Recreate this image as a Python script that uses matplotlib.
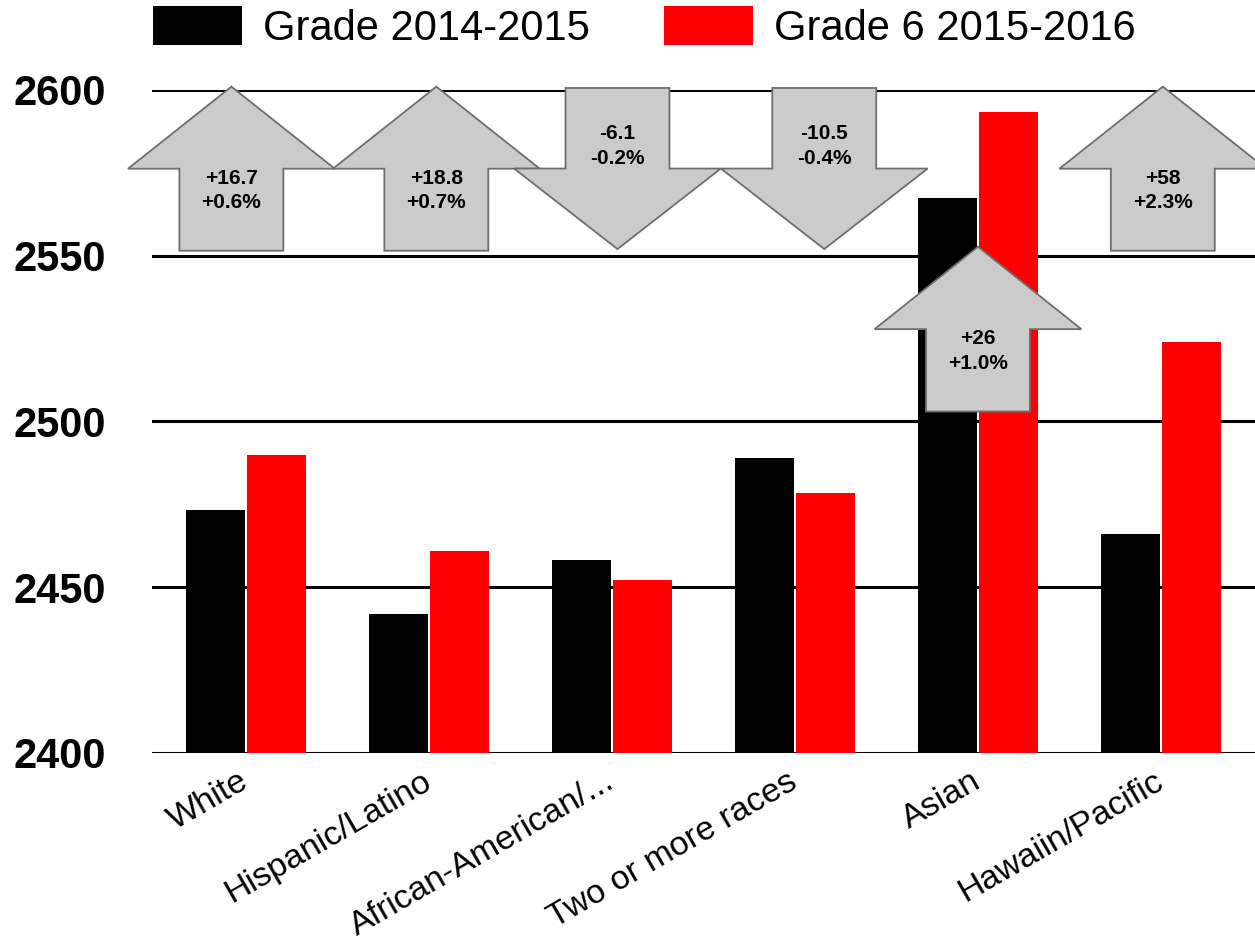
import numpy as np
import matplotlib
matplotlib.use("Agg")
import matplotlib.pyplot as plt
from matplotlib.patches import Polygon

plt.rcParams['font.family'] = ['Liberation Sans', 'DejaVu Sans']

# scaled scores by group
groups = ["White", "Hispanic/Latino", "African-American/...",
          "Two or more races", "Asian", "Hawaiin/Pacific"]
grade_2015 = [2473.2, 2442.0, 2458.3, 2489.0, 2567.4, 2466.0]
grade_2016 = [2489.9, 2460.8, 2452.2, 2478.5, 2593.4, 2524.0]
change_labels = ["+16.7\n+0.6%", "+18.8\n+0.7%", "-6.1\n-0.2%",
                 "-10.5\n-0.4%", "+26\n+1.0%", "+58\n+2.3%"]
series_names = ["Grade 2014-2015", "Grade 6 2015-2016"]
y_ticks = [2400, 2450, 2500, 2550, 2600]

# where each change arrow sits: shift from group centre, and its y span
arrow_shift = [-0.08, 0.04, 0.03, 0.16, 0.0, 0.01]
arrow_span = [(2551.5, 2601), (2551.5, 2601), (2552, 2600.6),
              (2552, 2600.6), (2503, 2552.7), (2551.5, 2601)]
HEAD_HALF = 0.565
SHAFT_HALF = 0.284


def change_arrow(ax, xc, lo, hi, up, text):
    mid = (lo + hi) / 2
    if up:
        pts = [(xc, hi), (xc + HEAD_HALF, mid), (xc + SHAFT_HALF, mid),
               (xc + SHAFT_HALF, lo), (xc - SHAFT_HALF, lo),
               (xc - SHAFT_HALF, mid), (xc - HEAD_HALF, mid)]
        ty = lo + 0.367 * (hi - lo)
    else:
        pts = [(xc, lo), (xc + HEAD_HALF, mid), (xc + SHAFT_HALF, mid),
               (xc + SHAFT_HALF, hi), (xc - SHAFT_HALF, hi),
               (xc - SHAFT_HALF, mid), (xc - HEAD_HALF, mid)]
        ty = hi - 0.36 * (hi - lo)
    ax.add_patch(Polygon(pts, closed=True, facecolor='#cbcbcb',
                         edgecolor='#6e6e6e', lw=1.3, zorder=5,
                         clip_on=False))
    ax.text(xc, ty, text, ha='center', va='center', fontsize=15,
            fontweight='bold', linespacing=1.35, zorder=6)


fig = plt.figure(figsize=(12.55, 9.47), dpi=100)
ax = fig.add_axes([0.1211, 0.2049, 0.8789, 0.7001])

x = np.arange(len(groups))
w = 0.32
b1 = ax.bar(x - 0.167, np.array(grade_2015) - 2400, w, bottom=2400,
            color='black', label=series_names[0], zorder=3)
b2 = ax.bar(x + 0.167, np.array(grade_2016) - 2400, w, bottom=2400,
            color='#ff0000', label=series_names[1], zorder=3)

for i in range(len(groups)):
    lo, hi = arrow_span[i]
    up = grade_2016[i] > grade_2015[i]
    change_arrow(ax, x[i] + arrow_shift[i], lo, hi, up, change_labels[i])

ax.set_xlim(-0.514, 5.514)
ax.set_ylim(2400, 2600)
ax.set_yticks(y_ticks)
ax.set_yticklabels([str(t) for t in y_ticks], fontsize=30, fontweight='bold')
ax.yaxis.grid(True, color='black', lw=2.2)
ax.set_axisbelow(True)
ax.tick_params(axis='y', length=0, pad=33)
ax.set_xticks(x)
ax.set_xticklabels(groups, fontsize=24.5, rotation=30, ha='right',
                   va='center', rotation_mode='anchor')
ax.tick_params(axis='x', length=0, pad=19)
for s in ax.spines.values():
    s.set_visible(False)

fig.legend(handles=[b1, b2], loc='upper left',
           bbox_to_anchor=(153 / 1255, 1 - 6 / 947), ncol=2, frameon=False,
           fontsize=30, handlelength=2.13, handleheight=1.06,
           handletextpad=0.5, columnspacing=1.8, borderpad=0,
           borderaxespad=0)

fig.savefig('out.png', dpi=100)
